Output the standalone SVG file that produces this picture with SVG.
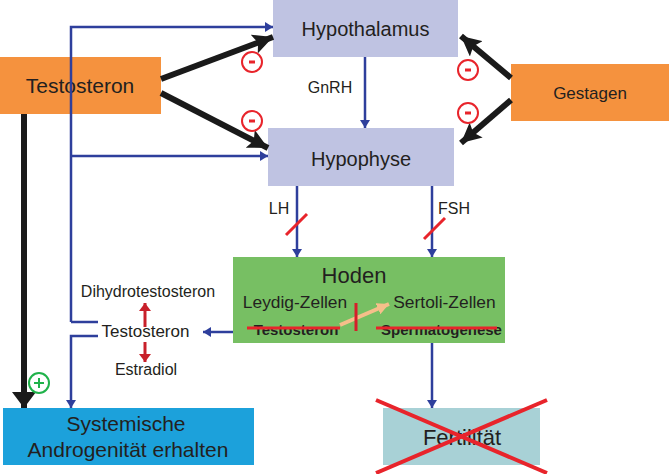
<svg xmlns="http://www.w3.org/2000/svg" width="669" height="474" viewBox="0 0 669 474">
<style>
text{font-family:"Liberation Sans",Arial,sans-serif;fill:#231f20;text-anchor:middle}
.blue{stroke:#2e3f9c;stroke-width:2.5;fill:none}
.black{stroke:#1a1a1a;stroke-width:6;fill:none}
.red{stroke:#e8242b;stroke-width:3;fill:none}
.minus{fill:none;stroke:#e8242b;stroke-width:2}
</style>
<defs>
<marker id="ab" viewBox="0 0 8 10" refX="8" refY="5" markerWidth="8" markerHeight="10" orient="auto" markerUnits="userSpaceOnUse"><path d="M0,0 L8,5 L0,10 z" fill="#2e3f9c"/></marker>
<marker id="abig" viewBox="0 0 20 20" refX="20" refY="10" markerWidth="20" markerHeight="20" orient="auto" markerUnits="userSpaceOnUse"><path d="M0,0 L20,10 L0,20 L4,10 z" fill="#1a1a1a"/></marker>
<marker id="avert" viewBox="0 0 16 24" refX="16" refY="12" markerWidth="16" markerHeight="24" orient="auto" markerUnits="userSpaceOnUse"><path d="M0,0 L16,12 L0,24 z" fill="#1a1a1a"/></marker>
<marker id="ar" viewBox="0 0 8 12" refX="8" refY="6" markerWidth="8" markerHeight="12" orient="auto" markerUnits="userSpaceOnUse"><path d="M0,0 L8,6 L0,12 z" fill="#c8202a"/></marker>
<marker id="ap" viewBox="0 0 10 10" refX="10" refY="5" markerWidth="12" markerHeight="12" orient="auto" markerUnits="userSpaceOnUse"><path d="M0,0 L10,5 L0,10 z" fill="#f6bf8a"/></marker>
</defs>

<g id="hypothalamus">
<rect x="273" y="0" width="185" height="57" fill="#bfc3e2"/>
<text x="365.5" y="36" font-size="20">Hypothalamus</text>
</g>
<g id="hypophyse">
<rect x="268" y="128" width="186" height="58" fill="#bfc3e2"/>
<text x="361" y="166" font-size="20">Hypophyse</text>
</g>
<g id="testosteron">
<rect x="0" y="57" width="161" height="57" fill="#f5923e"/>
<text x="80" y="93" font-size="21">Testosteron</text>
</g>
<g id="gestagen">
<rect x="511" y="64" width="158" height="57" fill="#f5923e"/>
<text x="590" y="99" font-size="17">Gestagen</text>
</g>
<g id="hoden">
<rect x="233" y="257" width="272" height="86" fill="#77bf63"/>
<text x="354" y="283" font-size="22">Hoden</text>
<text x="295" y="308" font-size="17.4">Leydig-Zellen</text>
<text x="444.5" y="308" font-size="17.4">Sertoli-Zellen</text>
<text x="296" y="335" font-size="15" font-weight="bold">Testosteron</text>
<text x="441.5" y="335" font-size="15" font-weight="bold">Spermatogenese</text>
<line x1="247" y1="328" x2="340" y2="328" class="red" stroke-width="2"/>
<line x1="376" y1="328" x2="497" y2="328" class="red" stroke-width="2"/>
<line x1="340" y1="325" x2="389" y2="304" stroke="#f6bf8a" stroke-width="4" marker-end="url(#ap)"/>
<line x1="356" y1="303" x2="356" y2="331" stroke="#d61f2a" stroke-width="3"/>
</g>
<g id="systemische">
<rect x="3" y="408" width="251" height="57" fill="#1ca1db"/>
<text x="126" y="431" font-size="21">Systemische</text>
<text x="128" y="457" font-size="21">Androgenität erhalten</text>
</g>
<g id="fertilitaet">
<rect x="383" y="408" width="157" height="57" fill="#a8d1d6"/>
<text x="462" y="445" font-size="22">Fertilität</text>
<line x1="376" y1="400" x2="547" y2="473" stroke="#e8242b" stroke-width="4"/>
<line x1="376" y1="473" x2="547" y2="400" stroke="#e8242b" stroke-width="4"/>
</g>
<g id="metabolites">
<text x="145.5" y="337" font-size="17">Testosteron</text>
<text x="148" y="297" font-size="16">Dihydrotestosteron</text>
<text x="146" y="375" font-size="16">Estradiol</text>
<line x1="145" y1="327" x2="145" y2="303" stroke="#c8202a" stroke-width="3" marker-end="url(#ar)"/>
<line x1="145" y1="342" x2="145" y2="362" stroke="#c8202a" stroke-width="3" marker-end="url(#ar)"/>
</g>

<g id="connectors">
<polyline class="blue" points="71,322 71,27 273,27" marker-end="url(#ab)"/>
<line class="blue" x1="71" y1="156" x2="268" y2="156" marker-end="url(#ab)"/>
<line class="blue" x1="71" y1="322" x2="98" y2="322"/>
<polyline class="blue" points="98,336 71,336 71,408" marker-end="url(#ab)"/>
<line class="blue" x1="365" y1="57" x2="365" y2="128" marker-end="url(#ab)"/>
<text x="330" y="93" font-size="16">GnRH</text>
<line class="blue" x1="297" y1="186" x2="297" y2="257" marker-end="url(#ab)"/>
<text x="279" y="214" font-size="16">LH</text>
<line x1="286" y1="235" x2="307" y2="214" class="red"/>
<line class="blue" x1="432" y1="186" x2="432" y2="257" marker-end="url(#ab)"/>
<text x="454" y="214" font-size="16">FSH</text>
<line x1="424" y1="239" x2="445" y2="218" class="red"/>
<line class="blue" x1="233" y1="332" x2="203" y2="332" marker-end="url(#ab)"/>
<line class="blue" x1="432" y1="343" x2="432" y2="408" marker-end="url(#ab)"/>

<line class="black" x1="161" y1="79" x2="273" y2="37" marker-end="url(#abig)"/>
<line class="black" x1="161" y1="93" x2="268" y2="148" marker-end="url(#abig)"/>
<line class="black" x1="511" y1="78" x2="461" y2="36" marker-end="url(#abig)"/>
<line class="black" x1="511" y1="100" x2="461" y2="143" marker-end="url(#abig)"/>
<line class="black" x1="24" y1="114" x2="24" y2="408" marker-end="url(#avert)"/>

<circle cx="252" cy="62" r="10" class="minus"/><rect x="249" y="60.5" width="6" height="3" fill="#e8242b"/>
<circle cx="252" cy="121" r="10" class="minus"/><rect x="249" y="119.5" width="6" height="3" fill="#e8242b"/>
<circle cx="468" cy="70" r="10" class="minus"/><rect x="465" y="68.5" width="6" height="3" fill="#e8242b"/>
<circle cx="468" cy="113" r="10" class="minus"/><rect x="465" y="111.5" width="6" height="3" fill="#e8242b"/>
<circle cx="39" cy="383" r="10" fill="none" stroke="#1fb24a" stroke-width="2"/>
<path d="M34,383 H44 M39,378 V388" stroke="#1fb24a" stroke-width="2"/>
</g>
</svg>
